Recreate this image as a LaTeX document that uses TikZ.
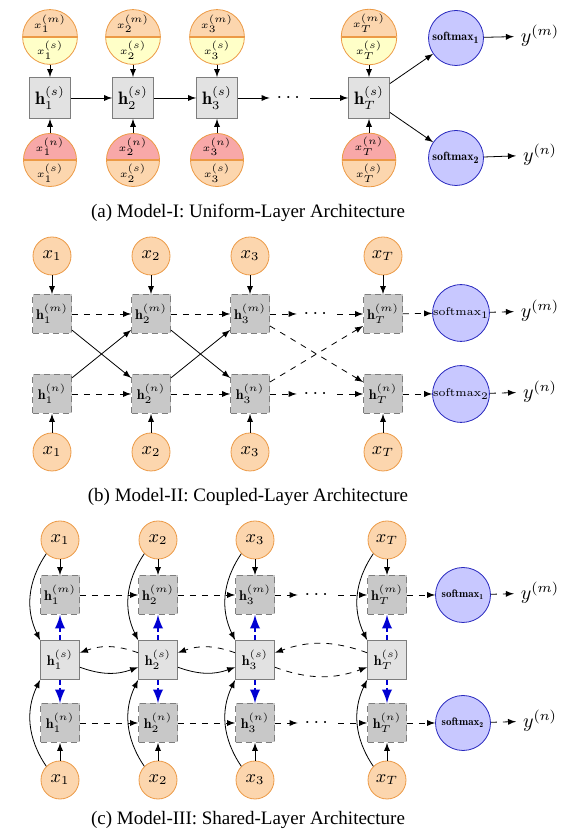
\documentclass[tikz,border=0pt]{standalone}
\usepackage{xcolor}
\usepackage{tikz}
\usepackage{amsmath}
\usepackage{fontspec}
\newfontfamily\capfont{Liberation Serif}

\definecolor{inorange}{RGB}{252,214,174}
\definecolor{inborder}{RGB}{236,154,70}
\definecolor{inyellow}{RGB}{255,255,200}
\definecolor{inpink}{RGB}{248,168,168}
\definecolor{hidlight}{RGB}{226,226,226}
\definecolor{hiddark}{RGB}{200,200,200}
\definecolor{hidborder}{RGB}{125,125,125}
\definecolor{smfill}{RGB}{200,200,255}
\definecolor{smborder}{RGB}{40,40,190}
\definecolor{sharedblue}{RGB}{0,0,210}

\tikzset{
    inp/.style={circle, draw=inborder, fill=inorange, minimum size=19pt, inner sep=0pt, font=\small},
    splitin/.style 2 args={circle, draw=inborder, fill=#2, align=center,
        minimum size=26.5pt, inner sep=0pt, font=\tiny,
        path picture={
            \fill [#1] (path picture bounding box.west) rectangle (path picture bounding box.north east);
            \draw [inborder, line width=1.4pt] (path picture bounding box.west) -- (path picture bounding box.east);
        }},
    splitm/.style={splitin={inorange}{inyellow}},
    splitn/.style={splitin={inpink}{inorange}},
    hshared/.style={draw=hidborder, fill=hidlight, minimum size=20.5pt, inner sep=0pt},
    htask/.style={draw=hidborder, densely dashed, fill=hiddark, minimum size=19.5pt, inner sep=0pt, font=\scriptsize},
    soft/.style={circle, draw=smborder, fill=smfill, minimum size=27.5pt, inner sep=0pt},
    blink/.style={->, draw=sharedblue, line width=1.3pt, dash pattern=on 2.5pt off 1.5pt},
    capt/.style={font=\capfont\fontsize{9.5}{11}\selectfont}
}

\begin{document}
\begin{tikzpicture}[x=0.5pt, y=0.5pt, >=latex]
    \useasboundingbox (0, 0) rectangle (566, 835);

    % (a) uniform layer
    \foreach \i/\x in {1/50, 2/133, 3/217, T/369} {
        \node [splitm] (am\i) at (\x, 798) {$x_\i^{(m)}$\\[3pt]$x_\i^{(s)}$};
        \node [hshared, font=\small] (ah\i) at (\x, 737) {$\mathbf{h}_\i^{(s)}$};
        \node [splitn] (an\i) at (\x, 675) {$x_\i^{(n)}$\\[3pt]$x_\i^{(s)}$};
        \draw [->] (am\i) -- (ah\i);
        \draw [->] (an\i) -- (ah\i);
    }
    \node (adots) at (290, 737) {$\cdots$};
    \draw [->] (ah1) -- (ah2);
    \draw [->] (ah2) -- (ah3);
    \draw [->] (ah3) -- (adots);
    \draw [->] (adots) -- (ahT);

    \node [soft, font=\fontsize{6}{7}\selectfont] (asm1) at (456, 797) {$\mathbf{softmax_1}$};
    \node [soft, font=\fontsize{6}{7}\selectfont] (asm2) at (456, 677) {$\mathbf{softmax_2}$};
    \node (aym) at (540, 799) {$y^{(m)}$};
    \node (ayn) at (540, 680) {$y^{(n)}$};
    \draw [->] (ahT) -- (asm1);
    \draw [->] (ahT) -- (asm2);
    \draw [->] (asm1) -- (aym);
    \draw [->] (asm2) -- (ayn);

    \node [capt] (capa) at (248, 622) {(a) Model-I: Uniform-Layer Architecture};

    % (b) coupled layer
    \foreach \i/\x in {1/52, 2/151, 3/250, T/383} {
        \node [inp] (bxt\i) at (\x, 579) {$x_\i$};
        \node [htask] (bm\i) at (\x, 521) {$\mathbf{h}_\i^{(m)}$};
        \node [htask] (bn\i) at (\x, 441) {$\mathbf{h}_\i^{(n)}$};
        \node [inp] (bxb\i) at (\x, 383) {$x_\i$};
        \draw [->] (bxt\i) -- (bm\i);
        \draw [->] (bxb\i) -- (bn\i);
    }
    \node (bdm) at (317, 521) {$\cdots$};
    \node (bdn) at (317, 441) {$\cdots$};
    \draw [->, dashed] (bm1) -- (bm2);
    \draw [->, dashed] (bm2) -- (bm3);
    \draw [->, dashed] (bm3) -- (bdm);
    \draw [->, dashed] (bdm) -- (bmT);
    \draw [->, dashed] (bn1) -- (bn2);
    \draw [->, dashed] (bn2) -- (bn3);
    \draw [->, dashed] (bn3) -- (bdn);
    \draw [->, dashed] (bdn) -- (bnT);
    \draw [->] (bm1) -- (bn2);
    \draw [->] (bn1) -- (bm2);
    \draw [->] (bm2) -- (bn3);
    \draw [->] (bn2) -- (bm3);
    \draw [->, dashed] (bm3) -- (bnT);
    \draw [->, dashed] (bn3) -- (bmT);

    \node [soft, font=\fontsize{5.7}{7}\selectfont] (bsm1) at (461, 522) {$\mathrm{softmax}_1$};
    \node [soft, font=\fontsize{5.7}{7}\selectfont] (bsm2) at (461, 441) {$\mathrm{softmax}_2$};
    \node (bym) at (540, 524) {$y^{(m)}$};
    \node (byn) at (540, 443) {$y^{(n)}$};
    \draw [->, dashed] (bmT) -- (bsm1);
    \draw [->, dashed] (bnT) -- (bsm2);
    \draw [->, dashed] (bsm1) -- (bym);
    \draw [->, dashed] (bsm2) -- (byn);

    \node [capt] (capb) at (248, 338) {(b) Model-II: Coupled-Layer Architecture};

    % (c) shared layer
    \foreach \i/\x in {1/60, 2/158, 3/255, T/387} {
        \node [inp] (cxt\i) at (\x, 295) {$x_\i$};
        \node [htask] (cm\i) at (\x, 240) {$\mathbf{h}_\i^{(m)}$};
        \node [hshared, minimum size=19.5pt, font=\scriptsize] (cs\i) at (\x, 175) {$\mathbf{h}_\i^{(s)}$};
        \node [htask] (cn\i) at (\x, 112) {$\mathbf{h}_\i^{(n)}$};
        \node [inp] (cxb\i) at (\x, 55) {$x_\i$};
        \draw [->] (cxt\i) -- (cm\i);
        \draw [->] (cxb\i) -- (cn\i);
        \draw [->] (cxt\i.225) to [bend right=30] (cs\i.north west);
        \draw [->] (cxb\i.135) to [bend left=30] (cs\i.south west);
        \draw [blink] (cs\i) -- (cm\i);
        \draw [blink] (cs\i) -- (cn\i);
    }
    \node (cdm) at (318, 240) {$\cdots$};
    \node (cdn) at (318, 112) {$\cdots$};
    \draw [->, dashed] (cm1) -- (cm2);
    \draw [->, dashed] (cm2) -- (cm3);
    \draw [->, dashed] (cm3) -- (cdm);
    \draw [->, dashed] (cdm) -- (cmT);
    \draw [->, dashed] (cn1) -- (cn2);
    \draw [->, dashed] (cn2) -- (cn3);
    \draw [->, dashed] (cn3) -- (cdn);
    \draw [->, dashed] (cdn) -- (cnT);

    % shared states, both directions
    \draw [->] (cs1.-20) to [bend right=20] (cs2.200);
    \draw [->] (cs2.-20) to [bend right=20] (cs3.200);
    \draw [->, dashed] (cs3.-20) to [bend right=20] (csT.200);
    \draw [->, dashed] (cs2.160) to [bend right=20] (cs1.20);
    \draw [->, dashed] (cs3.160) to [bend right=20] (cs2.20);
    \draw [->, dashed] (csT.160) to [bend right=20] (cs3.20);

    \node [soft, font=\fontsize{5.5}{6.5}\selectfont] (csm1) at (463, 240) {$\mathbf{softmax_1}$};
    \node [soft, font=\fontsize{5.5}{6.5}\selectfont] (csm2) at (463, 112) {$\mathbf{softmax_2}$};
    \node (cym) at (540, 242) {$y^{(m)}$};
    \node (cyn) at (540, 114) {$y^{(n)}$};
    \draw [->, dashed] (cmT) -- (csm1);
    \draw [->, dashed] (cnT) -- (csm2);
    \draw [->, dashed] (csm1) -- (cym);
    \draw [->, dashed] (csm2) -- (cyn);

    \node [capt] (capc) at (248, 15) {(c) Model-III: Shared-Layer Architecture};
\end{tikzpicture}
\end{document}
